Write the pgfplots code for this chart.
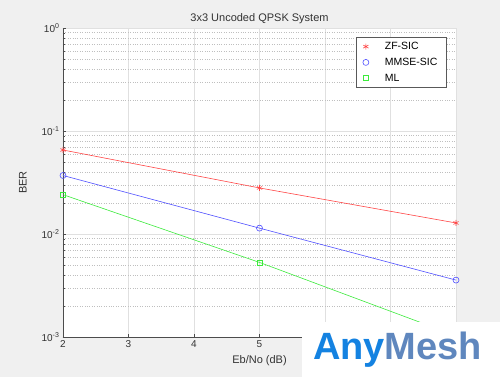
\documentclass[border=0pt]{standalone}
\usepackage{pgfplots}
\pgfplotsset{compat=1.18}
\usepackage{fontspec}
\setmainfont{Liberation Sans}
\definecolor{figbg}{RGB}{240,240,240}
\definecolor{zfc}{RGB}{255,70,70}
\definecolor{mmc}{RGB}{80,80,255}
\definecolor{mlc}{RGB}{60,235,60}
\definecolor{logoblue}{RGB}{95,135,190}
\definecolor{logobright}{RGB}{20,130,225}
\begin{document}
\begin{tikzpicture}[x=1pt,y=1pt]
\fill[figbg] (-63,-40) rectangle (437,337);
\useasboundingbox (-63,-40) rectangle (437,337);
\begin{semilogyaxis}[
  at={(0,0)}, anchor=south west,
  scale only axis, width=393pt, height=309pt,
  xmin=2, xmax=8, ymin=1e-3, ymax=1,
  axis background/.style={fill=white},
  axis x line*=bottom, axis y line*=left,
  axis line style={color=black!70, line width=0.5pt},
  xtick={2,3,4,5,6,7,8},
  xticklabels={2,3,4,5,,,},
  ytick={1e-3,1e-2,1e-1,1},
  yticklabels={10\textsuperscript{-3},10\textsuperscript{-2},10\textsuperscript{-1},10\textsuperscript{0}},
  /pgf/number format/assume math mode=true,
  tick label style={font=\fontsize{10}{12}\selectfont, color=black!80},
  tick align=inside, major tick length=3pt, minor tick length=2pt,
  tick style={color=black!70},
  xmajorgrids, ymajorgrids, yminorgrids,
  major grid style={color=black!12, line width=0.5pt},
  minor grid style={color=black!25, dotted, line width=0.5pt},
  title={3x3 Uncoded QPSK System},
  title style={font=\fontsize{11}{13}\selectfont, color=black!80, at={(axis description cs:0.5,1)}, anchor=south, yshift=-5pt},
  xlabel={Eb/No (dB)},
  ylabel={BER},
  xlabel style={font=\fontsize{11}{13}\selectfont, color=black!80, at={(axis description cs:0.5,-0.078)}, anchor=center},
  ylabel style={font=\fontsize{11}{13}\selectfont, color=black!80, at={(axis description cs:-0.102,0.5)}, anchor=center},
  legend style={at={(0.976,0.971)}, anchor=north east, draw=black!65, fill=white,
    font=\fontsize{10.5}{12}\selectfont, row sep=3pt, inner xsep=7pt, inner ysep=3pt},
  legend cell align=left,
  every axis plot/.append style={line width=0.6pt},
]
\addlegendimage{only marks, color=zfc, mark=asterisk, mark size=3pt}
\addlegendentry{\hspace{14pt}ZF-SIC}
\addlegendimage{only marks, color=mmc, mark=o, mark size=3pt}
\addlegendentry{\hspace{14pt}MMSE-SIC}
\addlegendimage{only marks, color=mlc, mark=square, mark size=2.6pt}
\addlegendentry{\hspace{14pt}ML}
\addplot[forget plot, color=zfc, mark=asterisk, mark size=3pt] coordinates {(2,0.0654) (5,0.0280) (8,0.0128)};
\addplot[forget plot, color=mmc, mark=o, mark size=3pt] coordinates {(2,0.0370) (5,0.0114) (8,0.00357)};
\addplot[forget plot, color=mlc, mark=square, mark size=2.6pt] coordinates {(2,0.0241) (5,0.0053) (8,0.00103)};
\end{semilogyaxis}
\fill[white] (239,-40) rectangle (437,15.3);
\node[anchor=west, inner sep=0pt, font=\fontsize{38}{38}\selectfont\bfseries] at (250,-13) {\textcolor{logobright}{Any}\textcolor{logoblue}{Mesh}};
\end{tikzpicture}
\end{document}
